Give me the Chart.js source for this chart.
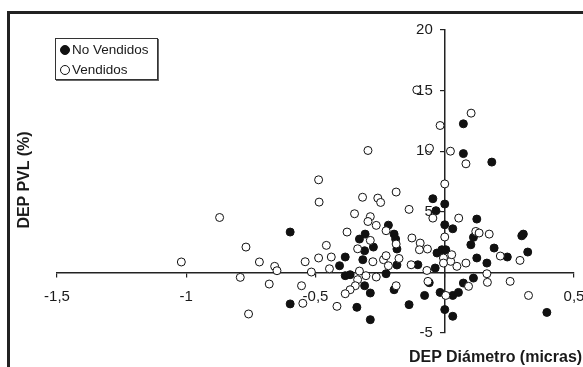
<!DOCTYPE html>
<html>
<head>
<meta charset="utf-8">
<script src="https://cdn.jsdelivr.net/npm/chart.js@4.4.0/dist/chart.umd.min.js"></script>
<style>
  body { margin: 0; background: #fff; }
  #wrap { position: relative; width: 583px; height: 367px; overflow: hidden;
          font-family: "Liberation Sans", Arial, sans-serif; color: #1a1a1a; }
  #frame { position: absolute; left: 7px; top: 11px; width: 700px; height: 500px;
           border-left: 3px solid #222; border-top: 3px solid #222; }
  #chart { position: absolute; left: 0; top: 0; }
  #legend { position: absolute; left: 55px; top: 38px; width: 101px; height: 40px;
            border: 1px solid #333; box-shadow: 1px 1px 0 #666; background: #fff; }
  .mk { position: absolute; width: 8px; height: 8px; border-radius: 50%; border: 1px solid #111; }
  .lt { position: absolute; font-size: 13.5px; line-height: 16px; white-space: nowrap; }
  .ttl { position: absolute; font-weight: bold; font-size: 16px; line-height: 16px; white-space: nowrap; }
</style>
</head>
<body>
<div id="wrap">
  <div id="frame"></div>
  <canvas id="chart" width="583" height="367"></canvas>
  <div id="legend"></div>
  <div class="ttl" id="ytitle" style="left:-36px; top:172px; width:120px; text-align:center; transform:rotate(-90deg);"></div>
  <div class="ttl" id="xtitle" style="left:409px; top:349px;"></div>
</div>
<script>
// series names / axis titles
var seriesNames = ['No Vendidos', 'Vendidos'];
var xTitle = 'DEP Diámetro (micras)';
var yTitle = 'DEP PVL (%)';

// ticks
var xTicks = [-1.5, -1, -0.5, 0, 0.5];
var xTickLabels = ['-1,5', '-1', '-0,5', '', '0,5'];
var yTicks = [-5, 0, 5, 10, 15, 20];
var yTickLabels = ['-5', '', '5', '10', '15', '20'];

// No Vendidos (puntos negros) [x, y]
var noVendidos = [
  [-0.598, 3.33], [-0.598, -2.6],
  [0.072, 12.26], [0.072, 9.8], [0.182, 9.1],
  [-0.046, 6.08], [0.0, 5.64], [-0.034, 5.09], [0.124, 4.4],
  [-0.218, 3.9], [-0.196, 3.16], [-0.19, 2.75], [-0.185, 1.93],
  [-0.308, 3.16], [-0.33, 2.75], [-0.31, 1.79], [-0.276, 2.09], [-0.317, 1.05], [-0.185, 0.61],
  [-0.385, 1.27], [-0.407, 0.55], [-0.385, -0.27], [-0.366, -0.19], [-0.227, -0.11],
  [-0.31, -1.1], [-0.288, -1.7], [-0.34, -2.88], [-0.288, -3.9], [-0.196, -1.43], [-0.138, -2.66],
  [-0.078, -1.9], [-0.037, 0.36], [-0.018, -1.65], [0.031, -1.9], [0.053, -1.65], [0.0, -3.07], [0.031, -3.62],
  [0.072, -0.88], [0.111, -0.47], [0.163, 0.77], [0.124, 1.19], [-0.03, 1.6], [-0.011, 1.87], [0.004, 1.87],
  [0.0, 3.93], [0.031, 3.6], [0.111, 2.89], [0.101, 2.28], [0.191, 2.01], [-0.104, 0.63],
  [0.242, 1.27], [0.298, 3.02], [0.304, 3.16], [0.321, 1.68], [0.395, -3.3],
  [-0.06, -0.85]
];

// Vendidos (puntos blancos) [x, y]
var vendidos = [
  [-0.871, 4.53], [-0.769, 2.09], [-1.019, 0.86], [-0.717, 0.86], [-0.658, 0.5], [-0.649, 0.14],
  [-0.791, -0.41], [-0.679, -0.96], [-0.554, -1.1], [-0.549, -2.55], [-0.759, -3.43],
  [-0.108, 15.06], [0.102, 13.14], [-0.018, 12.12], [-0.059, 10.25], [-0.297, 10.06], [0.022, 10.0],
  [0.082, 8.96], [0.0, 7.3],
  [-0.488, 7.64], [-0.486, 5.8], [-0.318, 6.2], [-0.259, 6.13], [-0.248, 5.77], [-0.188, 6.63],
  [-0.138, 5.2], [-0.046, 4.48], [0.054, 4.48], [-0.349, 4.84], [-0.288, 4.6], [-0.297, 4.2],
  [-0.265, 3.88], [-0.227, 3.44], [-0.188, 2.34], [-0.288, 2.64], [-0.378, 3.33], [-0.337, 1.95],
  [-0.278, 0.88], [-0.237, 1.05], [-0.227, 1.38], [-0.218, 0.55], [-0.177, 1.15], [-0.458, 2.23],
  [-0.488, 1.19], [-0.439, 1.27], [-0.446, 0.3], [-0.54, 0.88], [-0.516, 0.03], [-0.33, 0.11],
  [-0.337, -0.6], [-0.305, -0.27], [-0.265, -0.38], [-0.346, -1.1], [-0.366, -1.43], [-0.385, -1.76],
  [-0.417, -2.8], [-0.188, -1.1], [-0.065, -0.74], [-0.069, 0.16], [0.004, -1.9], [0.092, -1.15],
  [0.163, -0.11], [0.165, -0.82], [0.082, 0.77], [0.047, 0.5], [0.023, 0.91], [-0.005, 1.19],
  [-0.005, 0.77], [0.027, 1.46], [0.0, 2.92], [0.12, 3.38], [0.133, 3.25], [0.172, 3.16],
  [0.215, 1.35], [-0.127, 2.84], [-0.095, 2.42], [-0.098, 1.87], [-0.067, 1.93], [-0.13, 0.63],
  [0.291, 0.99], [0.253, -0.74], [0.324, -1.9]
];

var FONT = '"Liberation Sans", Arial, sans-serif';
var INK = '#1a1a1a';

function toPoints(arr) {
  return arr.map(function(p) { return { x: p[0], y: p[1] }; });
}

// titles and legend (html)
document.getElementById('xtitle').textContent = xTitle;
document.getElementById('ytitle').textContent = yTitle;
var lg = document.getElementById('legend');
var fills = ['#111', '#fff'];
for (var i = 0; i < seriesNames.length; i++) {
  var mk = document.createElement('span');
  mk.className = 'mk';
  mk.style.left = '4px';
  mk.style.top = (6 + i * 20) + 'px';
  mk.style.background = fills[i];
  lg.appendChild(mk);
  var t = document.createElement('span');
  t.className = 'lt';
  t.style.left = '16px';
  t.style.top = (3 + i * 20) + 'px';
  t.textContent = seriesNames[i];
  lg.appendChild(t);
}

// etiquetas del eje Y a la izquierda del eje (el eje centrado las pega a la línea)
var yLabelPlugin = {
  id: 'yLabels',
  beforeDatasetsDraw: function(chart) {
    var ctx = chart.ctx, xs = chart.scales.x, ys = chart.scales.y;
    var x0 = xs.getPixelForValue(0) - 12;
    ctx.save();
    ctx.font = '15px ' + FONT;
    ctx.fillStyle = INK;
    ctx.textAlign = 'right';
    ctx.textBaseline = 'middle';
    for (var k = 0; k < yTicks.length; k++) {
      if (!yTickLabels[k]) continue;
      ctx.fillText(yTickLabels[k], x0, ys.getPixelForValue(yTicks[k]));
    }
    ctx.restore();
  }
};

new Chart(document.getElementById('chart').getContext('2d'), {
  type: 'scatter',
  data: {
    datasets: [
      {
        label: seriesNames[0],
        data: toPoints(noVendidos),
        backgroundColor: '#111',
        borderColor: '#111',
        borderWidth: 1,
        pointRadius: 4,
        order: 2
      },
      {
        label: seriesNames[1],
        data: toPoints(vendidos),
        backgroundColor: '#fff',
        borderColor: '#111',
        borderWidth: 1,
        pointRadius: 4,
        order: 1 // blancos por encima
      }
    ]
  },
  options: {
    responsive: false,
    animation: false,
    devicePixelRatio: 1,
    layout: { padding: { left: 57, right: 9, top: 30, bottom: 34 } },
    plugins: { legend: { display: false }, tooltip: { enabled: false } },
    scales: {
      x: {
        type: 'linear',
        min: -1.5, max: 0.5,
        position: { y: 0 },
        afterBuildTicks: function(a) { a.ticks = xTicks.map(function(v) { return { value: v }; }); },
        afterFit: function(a) { a.paddingLeft = 0; a.paddingRight = 0; },
        ticks: {
          autoSkip: false, maxRotation: 0, padding: 11,
          font: { family: FONT, size: 15 }, color: INK,
          callback: function(v) { return xTickLabels[xTicks.indexOf(v)]; }
        },
        grid: { drawOnChartArea: false, drawTicks: true, tickLength: 4, color: '#222', lineWidth: 1.2 },
        border: { display: true, color: '#222', width: 1.5 }
      },
      y: {
        type: 'linear',
        min: -5, max: 20,
        position: { x: 0 },
        afterBuildTicks: function(a) { a.ticks = yTicks.map(function(v) { return { value: v }; }); },
        ticks: { display: false },
        grid: { drawOnChartArea: false, drawTicks: true, tickLength: 4, color: '#222', lineWidth: 1.2 },
        border: { display: true, color: '#222', width: 1.5 }
      }
    }
  },
  plugins: [yLabelPlugin]
});
</script>
</body>
</html>
